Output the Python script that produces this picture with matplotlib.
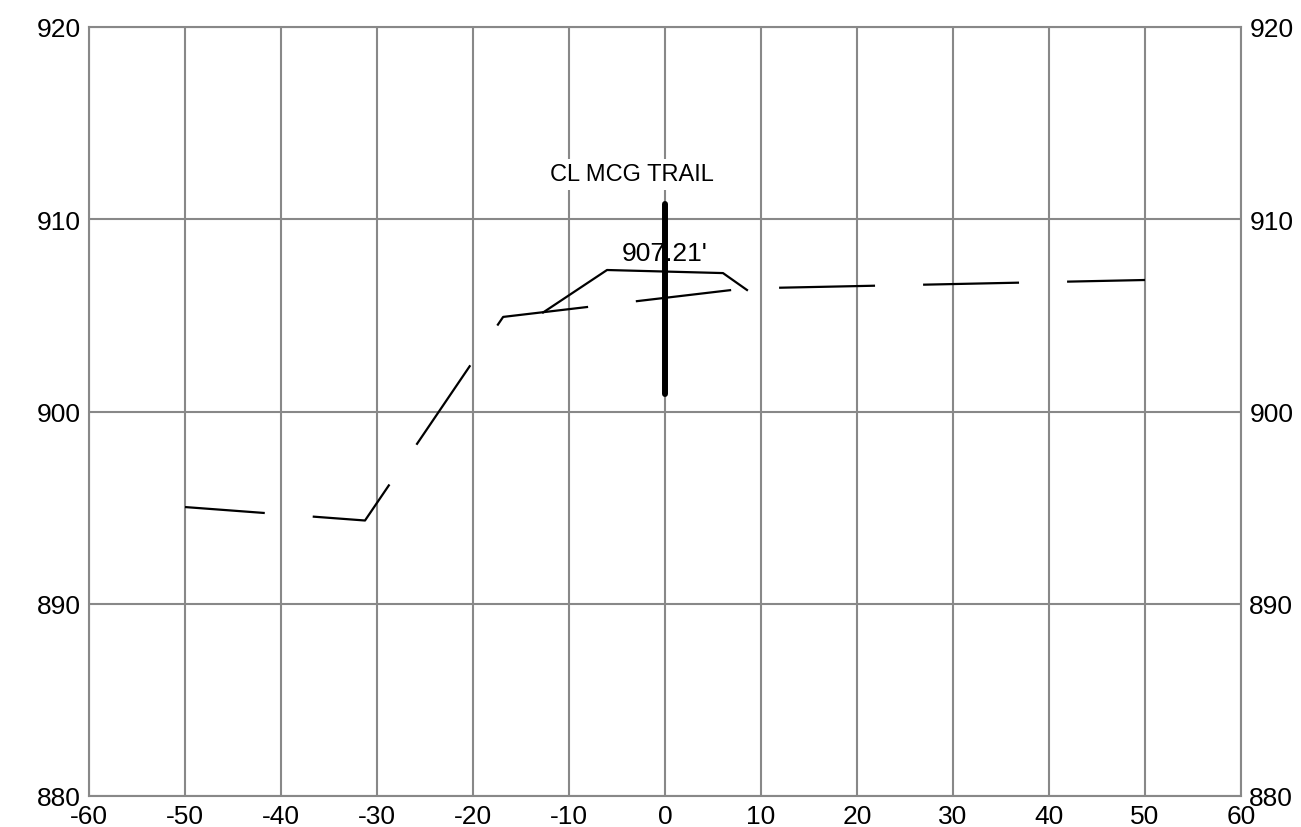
import matplotlib
matplotlib.use("Agg")
import matplotlib.pyplot as plt

plt.rcParams['font.family'] = ['Liberation Sans', 'DejaVu Sans']
plt.rcParams['axes.unicode_minus'] = False
plt.rcParams['lines.scale_dashes'] = False

# existing ground (dashed)
eg_x = [-50, -31.25, -16.86, 8.3, 50]
eg_y = [895.03, 894.33, 904.92, 906.40, 906.84]

# proposed trail section (solid)
pr_x = [-12.7, -6.04, 6.04, 8.54]
pr_y = [905.15, 907.36, 907.20, 906.32]

# centerline marker
cl_x = [0, 0]
cl_y = [900.9, 910.8]

x_ticks = list(range(-60, 61, 10))
y_ticks = list(range(880, 921, 10))

grid_col = '#888888'

fig = plt.figure(figsize=(13.01, 8.28), dpi=100)
ax = fig.add_axes([89 / 1301, 1 - 797 / 828, (1241 - 89) / 1301, (797 - 28) / 828])

ax.set_xlim(-60, 60)
ax.set_ylim(880, 920)
ax.set_xticks(x_ticks)
ax.set_yticks(y_ticks)
ax.grid(True, color=grid_col, linewidth=1.5, zorder=0)
ax.set_axisbelow(True)
for s in ax.spines.values():
    s.set_color(grid_col)
    s.set_linewidth(1.5)
ax.tick_params(length=0, labelsize=19, pad=6, labelright=True)

ax.plot(eg_x, eg_y, color='black', linewidth=1.6,
        linestyle=(11.5, (69.1, 34.6)), solid_joinstyle='round', zorder=3)
ax.plot(pr_x, pr_y, color='black', linewidth=1.6, solid_joinstyle='round', zorder=3)
ax.plot(cl_x, cl_y, color='black', linewidth=4.3, solid_capstyle='round', zorder=4)

ax.text(-3.4, 912.33, 'CL MCG TRAIL', ha='center', va='center', fontsize=17,
        bbox=dict(facecolor='white', edgecolor='none', pad=3), zorder=2)
ax.text(0, 908.27, "907.21'", ha='center', va='center', fontsize=19, zorder=3)

fig.savefig('out.png', dpi=100)
